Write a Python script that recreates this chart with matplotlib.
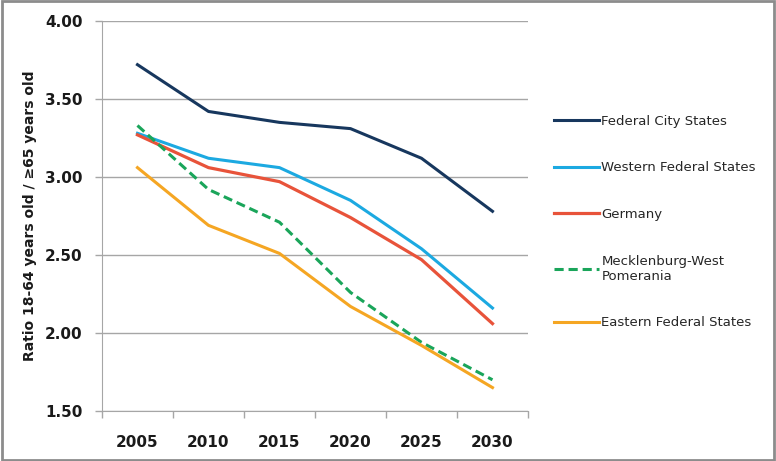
import matplotlib.pyplot as plt
from matplotlib.patches import Rectangle

years = ['2005', '2010', '2015', '2020', '2025', '2030']
city_states = [3.72, 3.42, 3.35, 3.31, 3.12, 2.78]
western = [3.28, 3.12, 3.06, 2.85, 2.54, 2.16]
germany = [3.27, 3.06, 2.97, 2.74, 2.47, 2.06]
meck_pom = [3.33, 2.92, 2.71, 2.26, 1.94, 1.70]
eastern = [3.06, 2.69, 2.51, 2.17, 1.92, 1.65]

fig = plt.figure(figsize=(7.76, 4.61), dpi=100)
ax = fig.add_axes([0.1314, 0.1085, 0.549, 0.846])

x = list(range(len(years)))
ax.plot(x, city_states, color='#17375E', lw=2.2, label='Federal City States')
ax.plot(x, western, color='#1CA9E1', lw=2.2, label='Western Federal States')
ax.plot(x, germany, color='#E8533A', lw=2.3, label='Germany')
ax.plot(x, meck_pom, color='#1AA55A', lw=2.2, ls=(0, (3, 1.6)), label='Mecklenburg-West\nPomerania')
ax.plot(x, eastern, color='#F5A623', lw=2.2, label='Eastern Federal States')

ax.set_xlim(-0.5, 5.5)
ax.set_ylim(1.5, 4.0)
ax.set_yticks([1.5, 2.0, 2.5, 3.0, 3.5, 4.0])
ax.set_yticklabels(['%.2f' % v for v in [1.5, 2.0, 2.5, 3.0, 3.5, 4.0]])
ax.set_xticks(x)
ax.set_xticklabels(years)
ax.set_xticks([i - 0.5 for i in range(7)], minor=True)
ax.tick_params(axis='x', which='major', length=0, pad=17)
ax.tick_params(axis='x', which='minor', length=5, color='#A6A6A6', width=1)
ax.tick_params(axis='y', length=5, color='#A6A6A6', width=1, pad=9)
for lab in ax.get_xticklabels() + ax.get_yticklabels():
    lab.set_fontweight('bold')
    lab.set_fontsize(11)
    lab.set_color('#1A1A1A')

ax.grid(axis='y', color='#A6A6A6', lw=1)
ax.set_axisbelow(True)
for s in ['top', 'right']:
    ax.spines[s].set_visible(False)
for s in ['left', 'bottom']:
    ax.spines[s].set_color('#A6A6A6')

ax.set_ylabel('Ratio 18-64 years old / ≥65 years old', fontsize=10, fontweight='bold',
              color='#1A1A1A', labelpad=6)

leg = ax.legend(loc='upper left', bbox_to_anchor=(1.033, 0.79), frameon=False,
                fontsize=9.5, handlelength=3.4, handletextpad=0.2, labelspacing=2.55)
for t in leg.get_texts():
    t.set_color('#262626')

fig.patches.append(Rectangle((0.002, 0.003), 0.996, 0.994, transform=fig.transFigure,
                             fill=False, edgecolor='#8C8C8C', lw=2))

fig.savefig('out.png', dpi=100)
